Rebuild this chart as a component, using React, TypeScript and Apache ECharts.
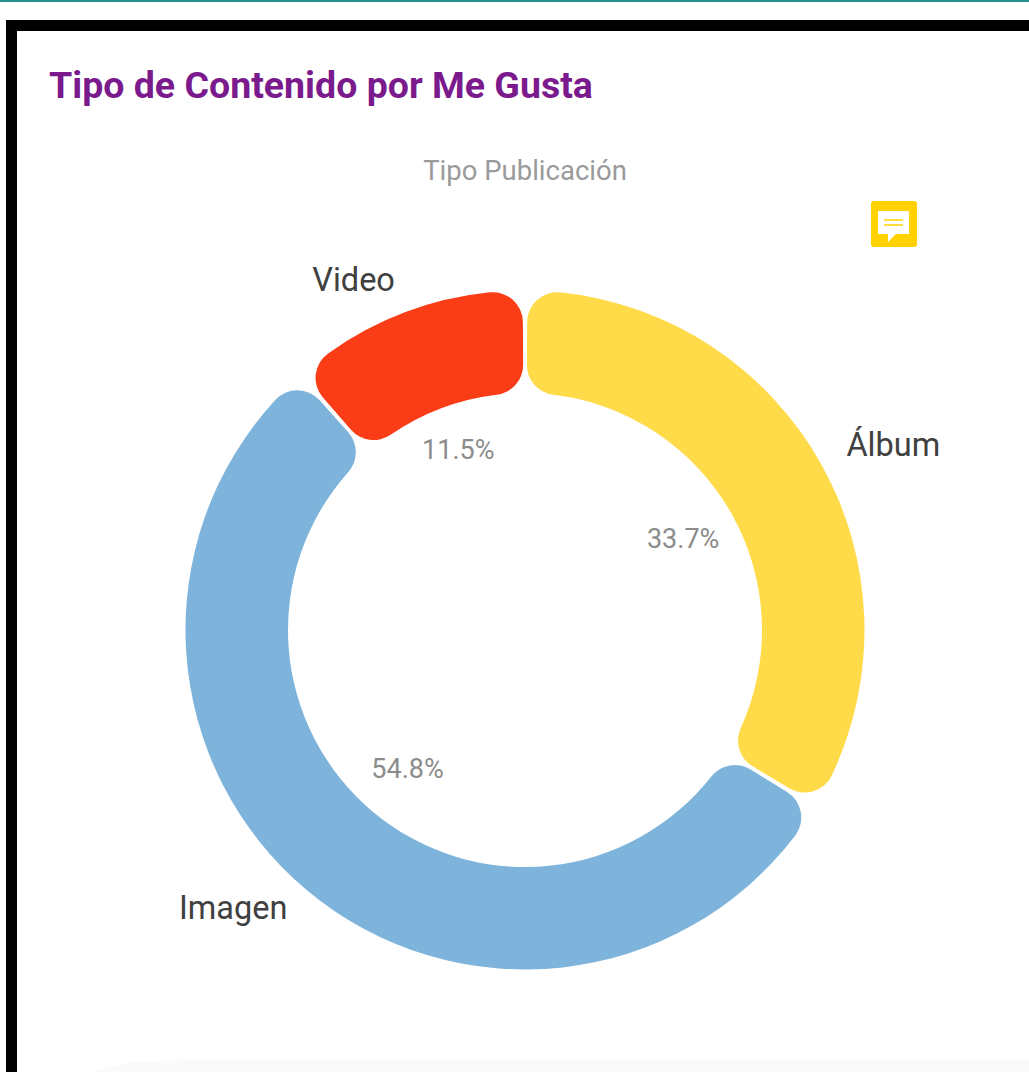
import React, { useEffect, useRef } from "react";
import * as echarts from "echarts";

const titleText = "Tipo de Contenido por Me Gusta";
const dimensionText = "Tipo Publicación";
const categories = ["Álbum", "Imagen", "Video"];
const shares = [33.7, 54.8, 11.5];
const colors = ["#ffdb4a", "#7eb4db", "#fa3d16"];
const nameOffsets = [[17, 12], [-33, -31], [-29, 27]];
const percentOffsets = [[-4, 0], [2, -4], [-1, -6]];

const font = "Roboto";

export default function App() {
  const ref = useRef<HTMLDivElement>(null);
  useEffect(() => {
    const chart = echarts.init(ref.current!, null, { renderer: "svg" });
    const center = [525, 630];
    chart.setOption({
      animation: false,
      backgroundColor: "#ffffff",
      title: [
        {
          text: titleText,
          left: 49,
          top: 66,
          padding: 0,
          textStyle: { color: "#7b1a8c", fontFamily: font, fontWeight: 700, fontSize: 37.5, lineHeight: 38 },
        },
        {
          text: dimensionText,
          left: 525,
          textAlign: "center",
          top: 154,
          padding: 0,
          textStyle: { color: "#9a9a9a", fontFamily: font, fontWeight: 400, fontSize: 27.5, lineHeight: 32 },
        },
      ],
      graphic: [
        { type: "rect", shape: { x: 0, y: 0, width: 1029, height: 2 }, style: { fill: "#26908f" } },
        { type: "rect", shape: { x: 6, y: 20, width: 1023, height: 11 }, style: { fill: "#000000" } },
        { type: "rect", shape: { x: 6, y: 20, width: 11, height: 1052 }, style: { fill: "#000000" } },
        { type: "polygon", shape: { points: [[90, 1072], [130, 1062], [190, 1060], [1029, 1060], [1029, 1072]] }, style: { fill: "#fafafa" } },
        { type: "rect", shape: { x: 871, y: 201, width: 46, height: 46, r: 3 }, style: { fill: "#ffd200" } },
        {
          type: "polygon",
          shape: { points: [[878, 211], [909, 211], [909, 234], [896, 234], [888, 242], [888, 234], [878, 234]] },
          style: { fill: "#ffffff" },
        },
        { type: "line", shape: { x1: 884, y1: 220, x2: 903, y2: 220 }, style: { stroke: "#ffd200", lineWidth: 1.5 } },
        { type: "line", shape: { x1: 884, y1: 225, x2: 903, y2: 225 }, style: { stroke: "#ffd200", lineWidth: 1.5 } },
      ],
      series: [
        {
          type: "pie",
          center,
          radius: [237, 339.5],
          startAngle: 90,
          clockwise: true,
          padAngle: 0.8,
          silent: true,
          itemStyle: { borderRadius: 30 },
          label: { show: false },
          labelLine: { show: false },
          data: categories.map((name, i) => ({ name, value: shares[i], itemStyle: { color: colors[i] } })),
        },
        {
          type: "pie",
          center,
          radius: [168, 198],
          startAngle: 90,
          silent: true,
          itemStyle: { color: "transparent" },
          labelLine: { show: false },
          label: {
            show: true,
            position: "inside",
            formatter: "{d}%",
            color: "#8c8c8c",
            fontFamily: font,
            fontSize: 27,
          },
          data: categories.map((name, i) => ({
            name,
            value: shares[i],
            label: { offset: percentOffsets[i] },
          })),
        },
        {
          type: "pie",
          center,
          radius: [385, 415],
          startAngle: 90,
          silent: true,
          itemStyle: { color: "transparent" },
          labelLine: { show: false },
          label: {
            show: true,
            position: "inside",
            formatter: "{b}",
            color: "#404040",
            fontFamily: font,
            fontSize: 32.5,
          },
          data: categories.map((name, i) => ({
            name,
            value: shares[i],
            label: { offset: nameOffsets[i] },
          })),
        },
      ],
    });
    return () => chart.dispose();
  }, []);
  return <div ref={ref} style={{ position: "absolute", left: 0, top: 0, width: 1029, height: 1072 }} />;
}
